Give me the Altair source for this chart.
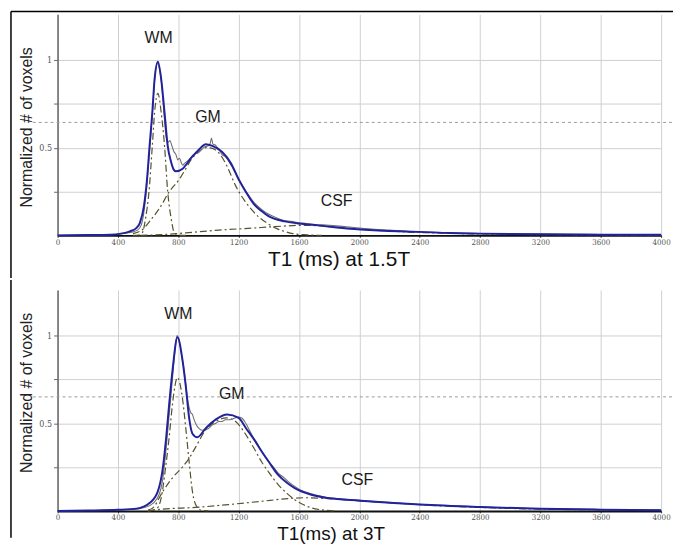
import altair as alt
import pandas as pd

# ---------------- 1.5T panel ----------------
fit_top_x = [0, 200, 348, 420, 479, 520, 545, 573, 593, 610, 628, 643, 665, 687, 709, 730, 752, 770, 785, 829, 884, 938, 982, 1026, 1091, 1150, 1200, 1250, 1300, 1350, 1398, 1507, 1616, 1725, 1944, 2163, 2400, 2600, 2800, 3200, 3600, 4000]
fit_top_y = [0.0, 0.002, 0.004, 0.01, 0.023, 0.04, 0.07, 0.17, 0.32, 0.51, 0.70, 0.89, 0.99, 0.89, 0.70, 0.51, 0.42, 0.375, 0.365, 0.38, 0.44, 0.49, 0.52, 0.51, 0.475, 0.41, 0.32, 0.245, 0.18, 0.14, 0.11, 0.08, 0.066, 0.057, 0.038, 0.027, 0.02, 0.013, 0.01, 0.006, 0.004, 0.003]

data_top_x = [0, 200, 350, 450, 500, 530, 555, 575, 593, 610, 628, 643, 662, 675, 690, 705, 718, 730, 745, 758, 770, 785, 797, 808, 818, 830, 842, 855, 870, 890, 910, 930, 955, 975, 995, 1010, 1020, 1030, 1045, 1060, 1075, 1090, 1110, 1150, 1200, 1250, 1300, 1350, 1400, 1450, 1500, 1550, 1600, 1650, 1700, 1800, 1900, 2000, 2100, 2200, 2300, 2400, 2500, 2600, 2700, 2800, 3000, 3200, 3400, 3600, 3800, 4000]
data_top_y = [0.0, 0.002, 0.004, 0.012, 0.02, 0.03, 0.06, 0.15, 0.30, 0.49, 0.69, 0.88, 0.98, 0.95, 0.86, 0.70, 0.57, 0.53, 0.54, 0.51, 0.48, 0.46, 0.43, 0.44, 0.42, 0.40, 0.41, 0.42, 0.43, 0.45, 0.465, 0.47, 0.49, 0.505, 0.51, 0.52, 0.555, 0.52, 0.515, 0.50, 0.485, 0.46, 0.45, 0.40, 0.32, 0.25, 0.19, 0.15, 0.12, 0.10, 0.085, 0.08, 0.072, 0.068, 0.062, 0.058, 0.05, 0.042, 0.035, 0.03, 0.024, 0.02, 0.017, 0.015, 0.012, 0.01, 0.008, 0.007, 0.006, 0.005, 0.004, 0.003]

wm_top_x = [500, 540, 562, 584, 606, 628, 643, 665, 687, 709, 730, 752, 774, 800, 850]
wm_top_y = [0.0, 0.002, 0.015, 0.10, 0.25, 0.51, 0.70, 0.81, 0.70, 0.51, 0.25, 0.10, 0.015, 0.002, 0.0]

gm_top_x = [500, 566, 610, 676, 741, 807, 850, 884, 940, 982, 1030, 1069, 1120, 1179, 1230, 1288, 1340, 1398, 1450, 1507, 1560, 1650, 1750]
gm_top_y = [0.01, 0.035, 0.08, 0.155, 0.25, 0.32, 0.38, 0.43, 0.48, 0.50, 0.495, 0.47, 0.40, 0.285, 0.21, 0.145, 0.10, 0.065, 0.04, 0.022, 0.01, 0.003, 0.0]

csf_top_x = [550, 700, 900, 1069, 1200, 1300, 1400, 1500, 1600, 1700, 1800, 1950, 2100, 2300, 2600, 3000, 3500, 4000]
csf_top_y = [0.0, 0.005, 0.018, 0.03, 0.037, 0.042, 0.048, 0.053, 0.057, 0.056, 0.05, 0.038, 0.03, 0.02, 0.012, 0.006, 0.003, 0.001]

# ---------------- 3T panel ----------------
fit_low_x = [0, 200, 400, 523, 610, 664, 697, 719, 741, 763, 795, 828, 850, 872, 894, 926, 981, 1047, 1124, 1200, 1250, 1300, 1352, 1400, 1462, 1520, 1572, 1682, 1790, 2009, 2228, 2403, 2800, 3200, 3600, 4000]
fit_low_y = [0.0, 0.002, 0.006, 0.013, 0.045, 0.11, 0.24, 0.41, 0.62, 0.81, 0.99, 0.86, 0.71, 0.53, 0.44, 0.42, 0.47, 0.52, 0.55, 0.53, 0.47, 0.41, 0.34, 0.28, 0.205, 0.16, 0.13, 0.092, 0.073, 0.058, 0.045, 0.036, 0.022, 0.012, 0.007, 0.004]

data_low_x = [0, 200, 400, 520, 610, 660, 697, 719, 741, 763, 780, 792, 805, 820, 839, 861, 883, 894, 905, 920, 937, 959, 981, 1000, 1025, 1050, 1069, 1090, 1112, 1140, 1177, 1200, 1221, 1240, 1260, 1290, 1320, 1352, 1400, 1440, 1462, 1500, 1540, 1572, 1620, 1682, 1740, 1790, 1850, 1900, 2000, 2100, 2228, 2300, 2403, 2500, 2600, 2700, 2800, 2900, 3000, 3200, 3400, 3600, 3800, 4000]
data_low_y = [0.0, 0.002, 0.005, 0.01, 0.03, 0.07, 0.18, 0.35, 0.56, 0.77, 0.93, 1.0, 0.97, 0.90, 0.80, 0.64, 0.56, 0.55, 0.52, 0.49, 0.47, 0.46, 0.465, 0.47, 0.49, 0.50, 0.51, 0.51, 0.52, 0.52, 0.53, 0.535, 0.53, 0.51, 0.48, 0.43, 0.39, 0.34, 0.28, 0.24, 0.215, 0.19, 0.16, 0.14, 0.115, 0.098, 0.085, 0.076, 0.07, 0.066, 0.06, 0.053, 0.046, 0.042, 0.036, 0.032, 0.03, 0.026, 0.022, 0.019, 0.016, 0.013, 0.01, 0.008, 0.006, 0.005]

wm_low_x = [600, 654, 686, 715, 741, 763, 795, 828, 850, 872, 894, 926, 960, 1000]
wm_low_y = [0.0, 0.01, 0.07, 0.24, 0.43, 0.62, 0.76, 0.64, 0.47, 0.28, 0.11, 0.02, 0.002, 0.0]

gm_low_x = [600, 632, 697, 763, 828, 872, 916, 981, 1047, 1120, 1180, 1244, 1300, 1352, 1400, 1462, 1520, 1572, 1630, 1682, 1750, 1850]
gm_low_y = [0.005, 0.017, 0.11, 0.19, 0.25, 0.30, 0.365, 0.46, 0.51, 0.53, 0.51, 0.44, 0.36, 0.28, 0.22, 0.15, 0.10, 0.064, 0.035, 0.017, 0.006, 0.0]

csf_low_x = [600, 697, 916, 1134, 1352, 1528, 1640, 1790, 2000, 2228, 2400, 2800, 3200, 3600, 4000]
csf_low_y = [0.0, 0.01, 0.02, 0.036, 0.055, 0.07, 0.075, 0.07, 0.057, 0.045, 0.035, 0.02, 0.01, 0.006, 0.003]

# ---------------- text ----------------
peak_names = ["WM", "GM", "CSF"]
top_label_x = [669, 997, 1850]
top_label_y = [1.096, 0.646, 0.166]
low_label_x = [800, 1154, 1987]
low_label_y = [1.096, 0.638, 0.149]
x_titles = ["T1 (ms) at 1.5T", "T1(ms) at 3T"]
y_title = "Normalized # of voxels"
ref_levels = [0.644, 0.65]
x_tick_values = list(range(0, 4001, 400))
y_tick_values = [0.25, 0.5, 0.75, 1.0]

W, H = 609, 223
X_SCALE = alt.Scale(domain=[0, 4000], nice=False, zero=False)
Y_SCALE = alt.Scale(domain=[0, 1.26], nice=False)

X_AXIS = alt.Axis(values=x_tick_values, title=None, grid=True, gridColor="#cfcfcf", format="d",
                  domainColor="#111111", domainWidth=2, tickColor="#333333", tickSize=2,
                  labelFont="DejaVu Serif Condensed", labelFontSize=8, labelColor="#555555",
                  labelPadding=1, labelFlush=False)
Y_AXIS = alt.Axis(values=y_tick_values, title=None, grid=True, gridColor="#cfcfcf",
                  domainColor="#666666", domainWidth=1.5, tickColor="#666666", tickSize=4,
                  labelExpr="datum.value == 0.5 ? '0.5' : (datum.value == 1 ? '1' : '')",
                  labelFont="DejaVu Serif Condensed", labelFontSize=9, labelColor="#555555",
                  labelPadding=2)


def line_df(xs, ys):
    return pd.DataFrame({"x": xs, "y": ys})


def line_layer(xs, ys, color, width, dash=None):
    kw = dict(color=color, strokeWidth=width, interpolate="monotone")
    if dash is not None:
        kw["strokeDash"] = dash
    return alt.Chart(line_df(xs, ys)).mark_line(**kw).encode(
        x=alt.X("x:Q", scale=X_SCALE, axis=X_AXIS),
        y=alt.Y("y:Q", scale=Y_SCALE, axis=Y_AXIS),
    )


one = pd.DataFrame({"a": [0]})
DASHDOT = [7, 3, 2, 3]
COMP = "#56522c"


def panel(fit, data, wm, gm, csf, lab_x, lab_y, ref, xtitle, title_x, title_y, title_size,
          ytitle_y, frame_top, frame_bottom, top_rule):
    layers = [
        alt.Chart(one).mark_rule(color="#9a9a9a", strokeWidth=1, strokeDash=[3, 3]).encode(
            x=alt.value(-25), x2=alt.value(621), y=alt.datum(ref, scale=Y_SCALE)),
        line_layer(*csf, COMP, 1.2, DASHDOT),
        line_layer(*gm, COMP, 1.2, DASHDOT),
        line_layer(*wm, COMP, 1.2, DASHDOT),
        line_layer(*data, "#707070", 1.1),
        line_layer(*fit, "#22229a", 2),
        alt.Chart(pd.DataFrame({"x": lab_x, "y": lab_y, "t": peak_names})).mark_text(
            font="Liberation Sans", fontSize=16, color="#1a1a1a", baseline="alphabetic").encode(
            x=alt.X("x:Q", scale=X_SCALE), y=alt.Y("y:Q", scale=Y_SCALE), text="t:N"),
        alt.Chart(one).mark_text(font="Liberation Sans", fontSize=title_size, color="#111111",
                                 baseline="alphabetic").encode(
            x=alt.value(title_x), y=alt.value(title_y), text=alt.value(xtitle)),
        alt.Chart(one).mark_text(font="Liberation Sans", fontSize=16, color="#222222",
                                 angle=270, baseline="middle").encode(
            x=alt.value(-31), y=alt.value(ytitle_y), text=alt.value(y_title)),
        alt.Chart(one).mark_rule(color="black", strokeWidth=1.5).encode(
            x=alt.value(-47), y=alt.value(frame_top), y2=alt.value(frame_bottom)),
    ]
    if top_rule:
        layers.append(alt.Chart(one).mark_rule(color="black", strokeWidth=1.5).encode(
            x=alt.value(-47), x2=alt.value(621), y=alt.value(frame_top)))
    return alt.layer(*layers).properties(width=W, height=H)


top = panel((fit_top_x, fit_top_y), (data_top_x, data_top_y), (wm_top_x, wm_top_y),
            (gm_top_x, gm_top_y), (csf_top_x, csf_top_y), top_label_x, top_label_y,
            ref_levels[0], x_titles[0], 284, 254, 21, 114, -3, 266, True)
low = panel((fit_low_x, fit_low_y), (data_low_x, data_low_y), (wm_low_x, wm_low_y),
            (gm_low_x, gm_low_y), (csf_low_x, csf_low_y), low_label_x, low_label_y,
            ref_levels[1], x_titles[1], 276, 252, 19, 104, -10, 250, False)

chart = alt.vconcat(top, low, spacing=0).properties(
    padding={"left": 2, "top": 0, "right": 0, "bottom": 0}
).configure_view(stroke=None)

chart.save("out.html", embed_options={"renderer": "svg", "actions": False})
